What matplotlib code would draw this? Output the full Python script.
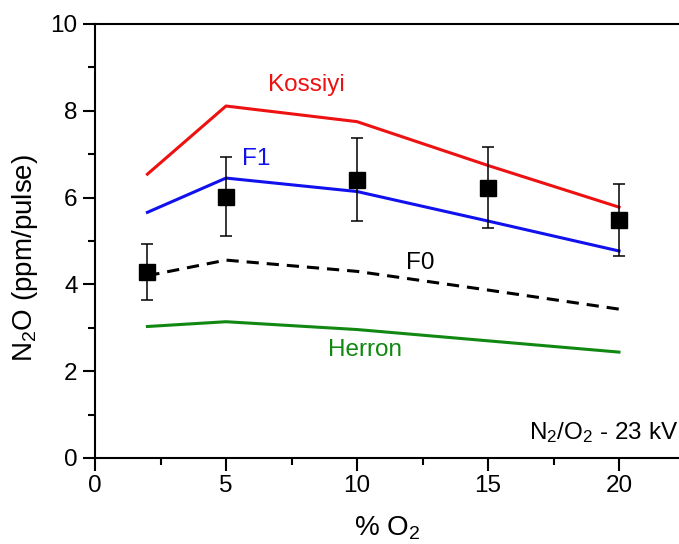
#!/usr/bin/env python3
"""N2O production per pulse vs O2 fraction in N2/O2 (23 kV), model curves vs measurement."""

import matplotlib
matplotlib.use('Agg')
import matplotlib.pyplot as plt
from matplotlib.ticker import MultipleLocator

plt.rcParams['font.family'] = ['Liberation Sans', 'DejaVu Sans']
plt.rcParams['mathtext.fontset'] = 'custom'
plt.rcParams['mathtext.rm'] = 'Liberation Sans'
plt.rcParams['mathtext.it'] = 'Liberation Sans:italic'

# % O2
o2 = [2, 5, 10, 15, 20]

# model curves (ppm/pulse)
kossiyi = [6.54, 8.11, 7.75, 6.74, 5.78]
f1 = [5.66, 6.45, 6.14, 5.46, 4.77]
f0 = [4.20, 4.56, 4.30, 3.87, 3.43]
herron = [3.03, 3.14, 2.96, 2.70, 2.44]

# measured
meas = [4.29, 6.02, 6.41, 6.23, 5.48]
meas_err = [0.645, 0.91, 0.96, 0.93, 0.83]


def main():
    fig = plt.figure(figsize=(6.79, 5.44), dpi=100)
    ax = fig.add_axes([95/679, 1 - 458/544, 1 - 95/679, (458 - 24)/544])

    lw = 2.2
    ax.plot(o2, kossiyi, color='#ee1111', lw=lw)
    ax.plot(o2, f1, color='#1111ee', lw=lw)
    ax.plot(o2, f0, color='black', lw=lw, dashes=(4, 2.6))
    ax.plot(o2, herron, color='#118811', lw=lw)
    ax.errorbar(o2, meas, yerr=meas_err, fmt='s', color='black', ms=11.5,
                elinewidth=1.1, capsize=4, capthick=1.1, zorder=5)

    fs = 17.5
    ax.text(8.08, 8.59, 'Kossiyi', color='#ee1111', fontsize=fs, ha='center', va='center')
    ax.text(6.17, 6.89, 'F1', color='#1111ee', fontsize=fs, ha='center', va='center')
    ax.text(12.4, 4.49, 'F0', color='black', fontsize=fs, ha='center', va='center')
    ax.text(10.3, 2.50, 'Herron', color='#118811', fontsize=fs, ha='center', va='center')
    ax.text(22.25, 0.58, r'N$_2$/O$_2$ - 23 kV', color='black', fontsize=fs,
            ha='right', va='center')

    ax.set_xlim(0, (679 - 95) / 26.2)
    ax.set_ylim(0, 10)
    ax.xaxis.set_major_locator(MultipleLocator(5))
    ax.xaxis.set_minor_locator(MultipleLocator(2.5))
    ax.yaxis.set_major_locator(MultipleLocator(2))
    ax.yaxis.set_minor_locator(MultipleLocator(1))

    for s in ['left', 'bottom', 'top']:
        ax.spines[s].set_linewidth(1.5)
    ax.spines['right'].set_visible(False)
    ax.tick_params(which='major', direction='out', length=9, width=1.5,
                   labelsize=fs, top=False, right=False)
    ax.tick_params(which='minor', direction='out', length=5, width=1.5,
                   top=False, right=False)

    ax.set_xlabel(r'% O$_2$', fontsize=20)
    ax.set_ylabel(r'N$_2$O (ppm/pulse)', fontsize=20)
    ax.xaxis.set_label_coords(0.5, -(515 - 458) / 434)
    ax.yaxis.set_label_coords(-(95 - 40) / 584, (458 - 258) / 434)

    fig.savefig('out.png', dpi=100)
    plt.close(fig)


if __name__ == "__main__":
    main()
